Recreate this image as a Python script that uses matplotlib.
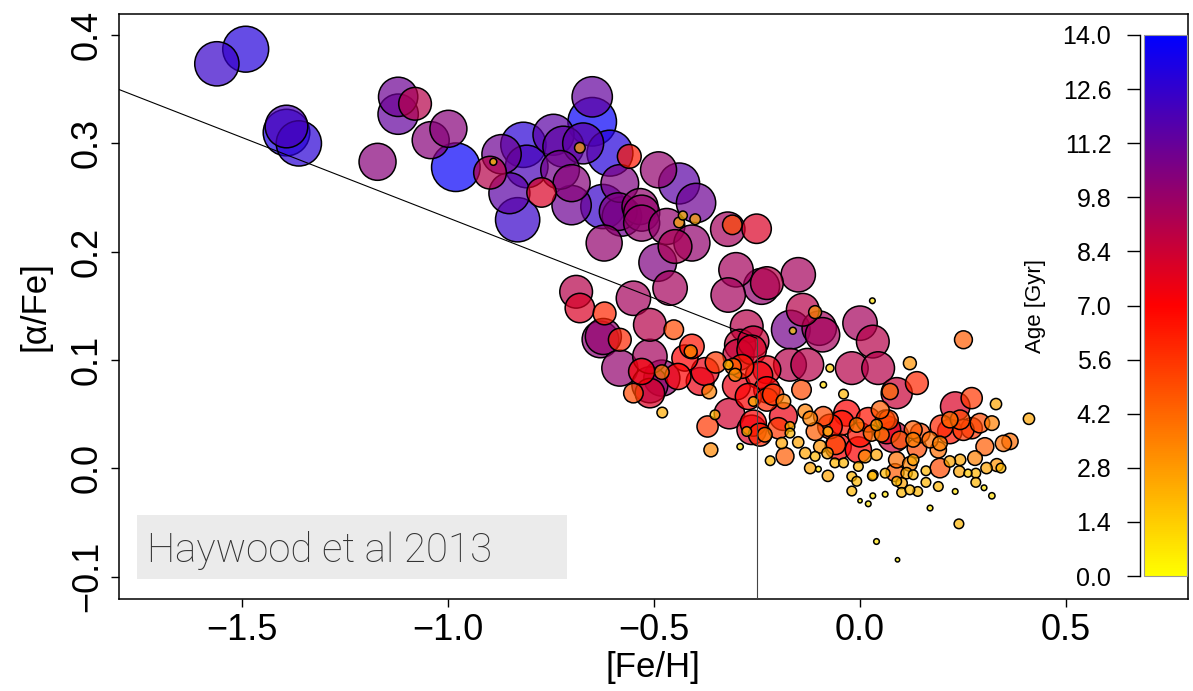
import numpy as np
import matplotlib
matplotlib.use("Agg")
import matplotlib.pyplot as plt
from matplotlib import font_manager as fm
from matplotlib.colors import LinearSegmentedColormap, Normalize
from matplotlib.cm import ScalarMappable
from matplotlib.patches import Rectangle
from matplotlib.ticker import FormatStrFormatter

# ---- data: (x=[Fe/H], y=[alpha/Fe], age in Gyr) ----
pts = [
    (-1.561, 0.3735, 12.5), (-1.491, 0.387, 13.0), (-1.392, 0.3156, 12.0), (-1.392, 0.310, 13.2),
    (-1.362, 0.300, 12.8), (-1.171, 0.283, 10.3), (-1.121, 0.343, 11.0), (-1.121, 0.327, 11.3),
    (-1.080, 0.3366, 9.0), (-1.042, 0.303, 10.3), (-0.999, 0.3135, 10.3), (-0.981, 0.278, 13.8),
    (-0.898, 0.273, 9.0), (-0.870, 0.290, 11.0), (-0.851, 0.254, 11.5),
    (-0.831, 0.2295, 12.5), (-0.817, 0.2987, 12.8), (-0.809, 0.2787, 12.0), (-0.773, 0.2547, 8.0),
    (-0.744, 0.308, 11.5), (-0.720, 0.297, 11.5), (-0.728, 0.2756, 10.8), (-0.700, 0.2633, 10.3),
    (-0.700, 0.243, 11.0), (-0.672, 0.300, 11.5), (-0.650, 0.343, 11.3), (-0.650, 0.320, 13.8),
    (-0.607, 0.291, 13.0), (-0.583, 0.263, 10.5), (-0.560, 0.288, 6.3),
    (-0.624, 0.2417, 12.5), (-0.587, 0.237, 10.5), (-0.621, 0.208, 10.0), (-0.534, 0.2417, 10.0),
    (-0.530, 0.2356, 10.0), (-0.530, 0.2264, 10.0), (-0.578, 0.2325, 11.0), (-0.489, 0.2756, 10.0),
    (-0.439, 0.263, 11.5), (-0.398, 0.245, 11.0), (-0.469, 0.2233, 10.0), (-0.408, 0.208, 10.0),
    (-0.449, 0.2048, 9.3), (-0.491, 0.190, 10.5), (-0.461, 0.1664, 9.5),
    (-0.321, 0.2208, 9.5), (-0.310, 0.2248, 5.0), (-0.251, 0.2212, 8.0), (-0.301, 0.1833, 9.5),
    (-0.320, 0.160, 9.5), (-0.239, 0.168, 10.0), (-0.226, 0.171, 9.0), (-0.150, 0.1787, 9.5),
    (-0.139, 0.1464, 9.0), (-0.109, 0.1442, 3.0), (0.030, 0.1547, 0.8), (0.000, 0.134, 9.5),
    (-0.099, 0.1294, 9.5), (-0.168, 0.128, 10.8), (-0.275, 0.131, 9.0),
    (-0.689, 0.163, 9.0), (-0.680, 0.148, 8.0), (-0.620, 0.143, 6.0), (-0.550, 0.157, 9.5),
    (-0.623, 0.1217, 10.0), (-0.630, 0.119, 10.2), (-0.583, 0.1187, 6.0), (-0.510, 0.1325, 9.0),
    (-0.452, 0.128, 5.0), (-0.510, 0.1033, 9.5), (-0.583, 0.0925, 10.0), (-0.530, 0.0894, 7.0),
    (-0.481, 0.0833, 10.0), (-0.481, 0.0888, 3.5), (-0.550, 0.0694, 5.0), (-0.510, 0.0771, 10.0),
    (-0.480, 0.0515, 2.3), (-0.408, 0.1125, 6.5), (-0.425, 0.1018, 7.0), (-0.411, 0.1079, 3.0),
    (-0.442, 0.0848, 7.0), (-0.388, 0.0802, 7.5), (-0.376, 0.0894, 7.5), (-0.350, 0.0977, 5.5),
    (-0.366, 0.0709, 3.5), (-0.352, 0.0494, 2.0), (-0.370, 0.0386, 5.5), (-0.362, 0.017, 3.3),
    (-0.291, 0.114, 8.5), (-0.287, 0.094, 6.3), (-0.308, 0.094, 4.0), (-0.320, 0.0956, 2.0),
    (-0.300, 0.076, 7.5), (-0.317, 0.0505, 8.3), (-0.259, 0.0417, 7.0), (-0.243, 0.031, 6.0),
    (-0.226, 0.091, 7.5), (-0.226, 0.0725, 7.0), (-0.259, 0.0617, 2.0), (-0.291, 0.020, 1.0),
    (-0.263, 0.1094, 8.0), (-0.303, 0.0863, 3.0), (-0.295, 0.1048, 8.5), (-0.259, 0.117, 8.5),
    (-0.275, 0.034, 2.0), (-0.231, 0.031, 3.5), (-0.226, 0.0633, 6.0), (-0.211, 0.068, 5.5),
    (-0.198, 0.037, 5.5), (-0.190, 0.0233, 2.5), (-0.182, 0.011, 4.5), (-0.218, 0.007, 2.0),
    (-0.170, 0.0956, 9.0), (-0.142, 0.0725, 5.0), (-0.091, 0.1233, 9.5), (-0.128, 0.0956, 9.0),
    (-0.089, 0.0771, 1.0), (-0.073, 0.0925, 1.5), (0.031, 0.117, 9.0), (-0.020, 0.0925, 9.0),
    (0.044, 0.0925, 9.0), (0.121, 0.097, 3.0), (0.089, 0.0694, 8.5), (0.138, 0.0787, 6.0),
    (0.073, 0.0709, 4.0), (0.231, 0.057, 8.0), (0.271, 0.0648, 5.5), (0.251, 0.1187, 4.5),
    (0.330, 0.0593, 2.5), (0.410, 0.0457, 2.5), (0.364, 0.0248, 4.0), (0.348, 0.023, 4.0),
    (0.320, 0.0417, 3.5),
    (-0.040, 0.0685, 2.0), (-0.186, 0.0617, 3.5), (-0.186, 0.0478, 7.5), (-0.170, 0.0386, 2.0),
    (-0.170, 0.0325, 2.0), (-0.150, 0.024, 2.5), (-0.133, 0.014, 2.5), (-0.121, 0.0002, 2.5),
    (-0.078, -0.007, 2.5), (-0.101, -0.0008, 0.8), (-0.133, 0.0525, 3.5), (-0.121, 0.046, 3.5),
    (-0.109, 0.034, 4.5), (-0.097, 0.020, 3.0), (-0.109, 0.011, 2.0), (-0.089, 0.048, 5.0),
    (-0.078, 0.034, 2.0), (-0.079, 0.014, 2.5), (-0.061, 0.005, 2.0), (-0.059, 0.0217, 5.0),
    (-0.044, 0.042, 6.5), (-0.073, 0.0386, 6.5), (-0.053, 0.020, 7.0), (-0.032, 0.051, 7.0),
    (-0.008, 0.040, 3.5), (0.000, 0.031, 6.5), (-0.004, 0.017, 7.0), (-0.004, 0.0017, 2.0),
    (-0.020, -0.0075, 2.0), (-0.008, -0.012, 2.0), (-0.020, -0.021, 2.0), (-0.040, 0.005, 2.0),
    (0.012, 0.011, 3.0), (0.040, 0.0125, 2.5), (0.040, 0.040, 2.5), (0.028, 0.0325, 4.0),
    (0.020, 0.0448, 6.5), (0.053, 0.031, 3.5), (0.065, 0.0355, 7.5), (0.081, 0.029, 8.5),
    (0.089, 0.0078, 4.0), (0.061, -0.0045, 2.0), (0.089, -0.012, 2.0), (0.032, -0.006, 2.0),
    (0.031, -0.0254, 0.8), (0.061, -0.024, 0.8),
    (0.218, 0.034, 6.5), (0.198, 0.0386, 6.0), (0.271, 0.037, 5.5), (0.291, 0.0417, 5.0),
    (0.303, 0.020, 4.5), (0.279, 0.0094, 3.5), (0.332, 0.003, 3.0), (0.342, 0.0002, 2.0),
    (0.307, 0.0002, 2.5), (0.243, 0.0078, 2.5), (0.241, -0.003, 2.5), (0.262, -0.0045, 1.5),
    (0.281, -0.0045, 2.0), (0.281, -0.013, 2.0), (0.190, 0.017, 4.0), (0.194, 0.023, 3.5),
    (0.194, 0.0002, 5.0), (0.160, -0.0023, 2.0), (0.160, -0.013, 2.0), (0.190, -0.0168, 2.0),
    (0.218, 0.0063, 2.5), (0.138, 0.0186, 5.0), (0.129, 0.0078, 2.5), (0.129, -0.006, 2.0),
    (0.129, 0.0263, 3.5), (0.101, -0.0137, 2.5), (0.101, -0.0223, 2.0), (0.140, -0.0214, 2.0),
    (0.121, -0.0199, 2.0), (0.121, 0.004, 3.5), (0.085, -0.004, 4.5), (0.231, -0.0214, 0.8),
    (0.301, -0.018, 0.8), (0.320, -0.0254, 1.0), (0.170, -0.0367, 0.8), (0.243, 0.0448, 5.0),
    (0.251, 0.0355, 5.5), (0.218, 0.0448, 4.0), (0.061, 0.0448, 5.0), (0.129, 0.0355, 4.5),
    (0.146, 0.0325, 5.0), (0.170, 0.0263, 4.0), (0.097, 0.026, 4.5), (0.113, -0.0045, 2.5),
    (0.049, 0.054, 4.5), (0.069, 0.0448, 5.0),
    (0.000, -0.030, 0.4), (0.020, -0.0328, 0.8), (0.240, -0.0513, 2.0), (0.040, -0.0676, 0.8),
    (0.091, -0.0845, 0.4), (0.030, -0.007, 2.0),
    (-0.245, 0.086, 7.3), (-0.271, 0.0663, 7.0), (-0.263, 0.0355, 8.0), (-0.510, 0.0694, 8.0),
    (-0.890, 0.283, 1.2), (-0.680, 0.296, 2.3), (-0.430, 0.2334, 1.8), (-0.439, 0.227, 2.3),
    (-0.400, 0.230, 2.3), (-0.163, 0.127, 1.2),
]
feh = [p[0] for p in pts]
afe = [p[1] for p in pts]
age = [p[2] for p in pts]

line_x = [-1.8, -0.25]
line_y = [0.35, 0.12]
vline_x = -0.25
vline_top = 0.12

xticks = [-1.5, -1.0, -0.5, 0.0, 0.5]
yticks = [-0.1, 0.0, 0.1, 0.2, 0.3, 0.4]
cbar_ticks = [0.0, 1.4, 2.8, 4.2, 5.6, 7.0, 8.4, 9.8, 11.2, 12.6, 14.0]
age_min, age_max = 0.0, 14.0

# ---- fonts ----
def has_font(name):
    try:
        fm.findfont(fm.FontProperties(family=name), fallback_to_default=False)
        return True
    except Exception:
        return False

tick_family = 'Liberation Sans Narrow' if has_font('Liberation Sans Narrow') else 'Liberation Sans'
base_family = 'Liberation Sans'
note_family = 'Roboto' if has_font('Roboto') else 'DejaVu Sans'

W, H = 1193, 691
DPI = 100
fig = plt.figure(figsize=(W / DPI, H / DPI), dpi=DPI)

ax_l, ax_r, ax_t, ax_b = 119, 1188, 14, 599
ax = fig.add_axes([ax_l / W, 1 - ax_b / H, (ax_r - ax_l) / W, (ax_b - ax_t) / H])

cmap = LinearSegmentedColormap.from_list('age', ['#FFFF00', '#FF0000', '#0000FF'])
norm = Normalize(age_min, age_max)

a = np.array(age)
order = np.argsort(-a, kind='stable')
fx = np.array(feh)[order]
fy = np.array(afe)[order]
fa = a[order]
face = cmap(norm(fa))
face[:, 3] = 0.7
diam_px = 3.0 + 3.3 * fa
sizes = (diam_px * 72.0 / DPI) ** 2
ax.scatter(fx, fy, s=sizes, c=face, edgecolors='black', linewidths=1.1, zorder=2)

ax.plot(line_x, line_y, color='black', lw=0.8, zorder=3)
ax.plot([vline_x, vline_x], [vline_top, -0.2], color='#444444', lw=0.8, zorder=3)

ax.set_xlim(-1.7985, 0.796)
ax.set_ylim(-0.1207, 0.4195)
ax.set_xticks(xticks)
ax.set_yticks(yticks)
ax.set_xticklabels(['\u22121.5', '\u22121.0', '\u22120.5', '0.0', '0.5'])
ax.set_yticklabels(['\u22120.1', '0.0', '0.1', '0.2', '0.3', '0.4'])
ax.tick_params(direction='out', length=6, width=1.0, pad=4, labelsize=26)
for lab in ax.get_xticklabels() + ax.get_yticklabels():
    lab.set_family(tick_family)
for lab in ax.get_yticklabels():
    lab.set_rotation(90)
    lab.set_va('center')
for sp in ax.spines.values():
    sp.set_linewidth(1.1)

# note box
ax.add_patch(Rectangle((-1.755, -0.1022), 1.044, 0.0591, facecolor='#EBEBEB',
                       edgecolor='none', zorder=1))
ax.text(-1.731, -0.0868, 'Haywood et al 2013', fontsize=29, family=note_family,
        fontweight='light', color='#333333', va='baseline', ha='left', zorder=4)

fig.text(653 / W, 1 - 668 / H, '[Fe/H]', fontsize=25, family=base_family,
         ha='center', va='center')
fig.text(35 / W, 1 - 306 / H, '[\u03b1/Fe]', fontsize=25, family=base_family,
         ha='center', va='center', rotation=90)

# colorbar
cb_l, cb_r, cb_t, cb_b = 1144, 1187, 35, 576
cax = fig.add_axes([cb_l / W, 1 - cb_b / H, (cb_r - cb_l) / W, (cb_b - cb_t) / H])
sm = ScalarMappable(norm=norm, cmap=cmap)
cb = fig.colorbar(sm, cax=cax, ticks=cbar_ticks)
cb.ax.yaxis.set_ticks_position('left')
cb.ax.yaxis.set_major_formatter(FormatStrFormatter('%.1f'))
cb.outline.set_edgecolor('#999999')
cb.outline.set_linewidth(0.8)
sp = cb.ax.spines['left']
sp.set_visible(True)
sp.set_position(('outward', 3))
sp.set_linewidth(1.0)
cb.ax.tick_params(axis='y', length=9.5, width=1.0, pad=11, labelsize=18)
for lab in cb.ax.get_yticklabels():
    lab.set_family(base_family)

fig.text(1036 / W, 1 - 306 / H, 'Age [Gyr]', fontsize=16, family=base_family,
         ha='center', va='center', rotation=90)

fig.savefig('out.png', dpi=DPI)
